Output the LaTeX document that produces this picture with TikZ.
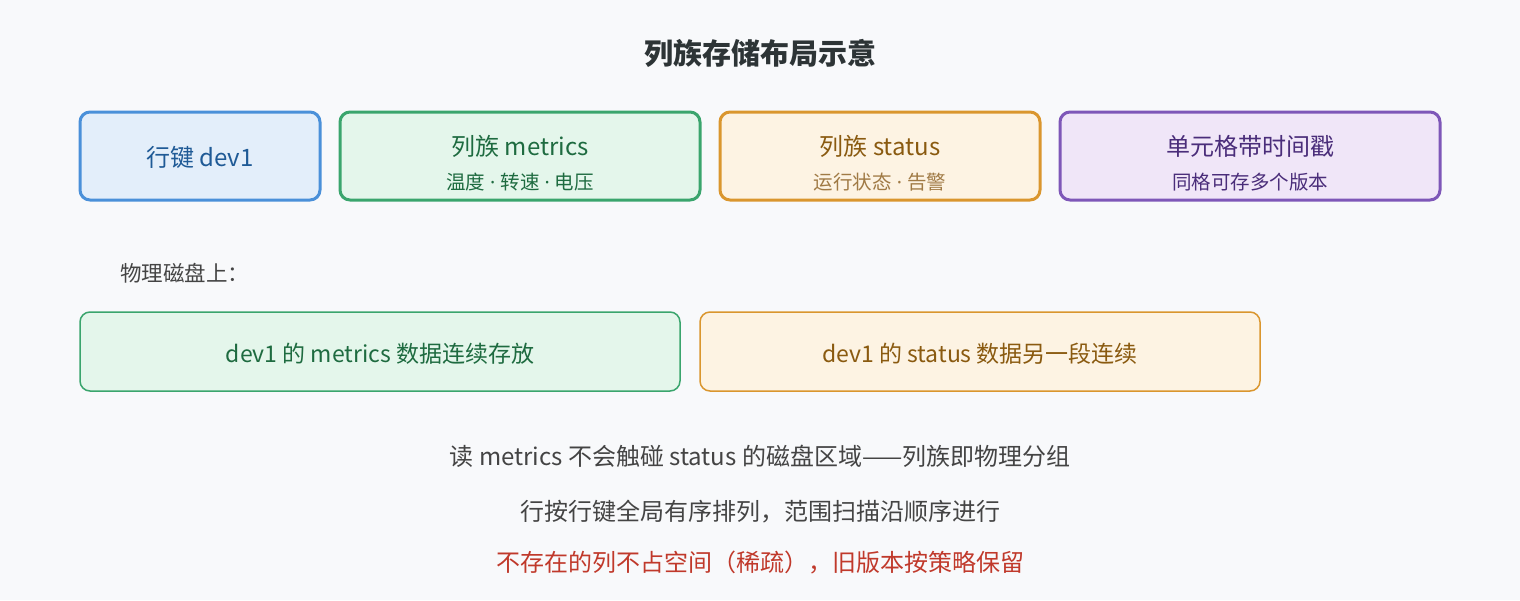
\documentclass[tikz,border=0pt]{standalone}
\usepackage{fontspec}
\setmainfont{Noto Sans CJK SC}
\newfontfamily\latinfont{Noto Sans}
\newcommand{\middot}{{\latinfont\ ·\ }}
\definecolor{bgc}{HTML}{F8F9FB}
\definecolor{titlec}{HTML}{2D3436}
\definecolor{bluestroke}{HTML}{4A90D9}
\definecolor{bluefill}{HTML}{E3EEFA}
\definecolor{bluetext}{HTML}{1F5A96}
\definecolor{greenstroke}{HTML}{3AA56D}
\definecolor{greenfill}{HTML}{E4F6EB}
\definecolor{greentext}{HTML}{1E6B40}
\definecolor{orangestroke}{HTML}{DA962E}
\definecolor{orangefill}{HTML}{FDF3E3}
\definecolor{orangetext}{HTML}{8A5A10}
\definecolor{orangesub}{HTML}{A07A45}
\definecolor{purplestroke}{HTML}{7E57B8}
\definecolor{purplefill}{HTML}{F0E6F8}
\definecolor{purpletext}{HTML}{4A2D7A}
\definecolor{bodytext}{HTML}{444444}
\definecolor{redtext}{HTML}{C0392B}
\tikzset{
  topbox/.style={draw, line width=3pt, rounded corners=10pt, minimum height=88pt, inner sep=0pt},
  diskbox/.style={draw, line width=1.5pt, rounded corners=10pt, minimum height=79pt, inner sep=0pt},
  maintxt/.style={font=\fontsize{24}{28}\selectfont, inner sep=0pt},
  subtxt/.style={font=\fontsize{19.5}{23}\selectfont, inner sep=0pt},
  bodytxt/.style={font=\fontsize{24}{28}\selectfont, text=bodytext, inner sep=0pt},
}
\begin{document}
\begin{tikzpicture}[x=1pt,y=-1pt]
\fill[bgc] (0,0) rectangle (1520,600);
\useasboundingbox (0,0) rectangle (1520,600);
\node[font=\fontsize{29}{33}\selectfont\bfseries, text=titlec] (title) at (760,53) {列族存储布局示意};
% top boxes
\node[topbox, draw=bluestroke, fill=bluefill, minimum width=240pt] (rk) at (200,156) {};
\node[maintxt, text=bluetext] (rkt) at (200,157) {行键 dev1};
\node[topbox, draw=greenstroke, fill=greenfill, minimum width=360pt] (cfm) at (520,156) {};
\node[maintxt, text=greentext] (cfmt) at (520,146) {列族 metrics};
\node[subtxt, text=greentext] (cfms) at (520,182) {温度\middot 转速\middot 电压};
\node[topbox, draw=orangestroke, fill=orangefill, minimum width=320pt] (cfs) at (880,156) {};
\node[maintxt, text=orangetext] (cfst) at (880,146) {列族 status};
\node[subtxt, text=orangesub] (cfss) at (880,182) {运行状态\middot 告警};
\node[topbox, draw=purplestroke, fill=purplefill, minimum width=380pt] (cell) at (1250,156) {};
\node[maintxt, text=purpletext] (cellt) at (1250,146) {单元格带时间戳};
\node[subtxt, text=purpletext] (cells) at (1250,182) {同格可存多个版本};
% disk
\node[anchor=west, font=\fontsize{21.5}{25}\selectfont, text=bodytext, inner sep=0pt] (disk) at (120,273) {物理磁盘上：};
\node[diskbox, draw=greenstroke, fill=greenfill, minimum width=600pt] (dm) at (380,351.5) {};
\node[font=\fontsize{23}{27}\selectfont, text=greentext, inner sep=0pt] (dmt) at (380,354) {dev1 的 metrics 数据连续存放};
\node[diskbox, draw=orangestroke, fill=orangefill, minimum width=560pt] (ds) at (980,351.5) {};
\node[font=\fontsize{23}{27}\selectfont, text=orangetext, inner sep=0pt] (dst) at (980,354) {dev1 的 status 数据另一段连续};
% notes
\node[bodytxt] (n1) at (760,456) {读 metrics 不会触碰 status 的磁盘区域——列族即物理分组};
\node[bodytxt] (n2) at (760,512) {行按行键全局有序排列，范围扫描沿顺序进行};
\node[bodytxt, text=redtext] (n3) at (760,563) {不存在的列不占空间（稀疏），旧版本按策略保留};
\end{tikzpicture}
\end{document}
